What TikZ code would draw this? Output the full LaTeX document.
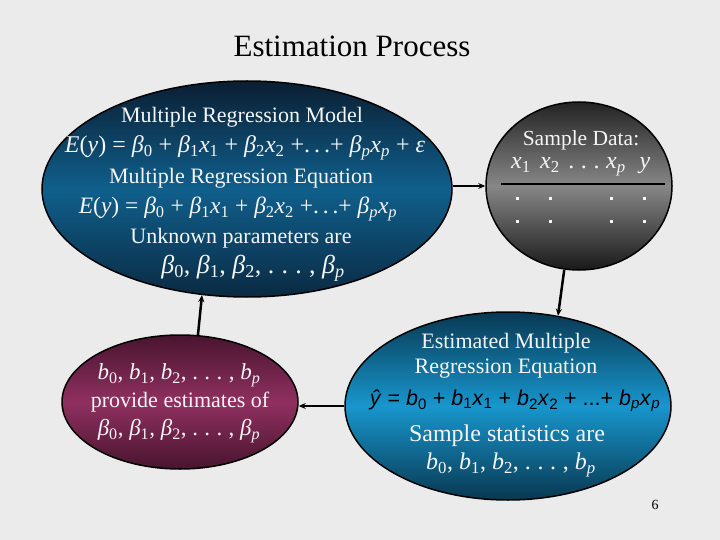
\documentclass[tikz,border=0pt]{standalone}
\usepackage{fontspec}
\setmainfont{Liberation Serif}
\newfontfamily\sansf{Liberation Sans}
\usetikzlibrary{shapes.geometric,arrows.meta}
\newcommand{\sbs}[1]{\textsubscript{#1}}
\newcommand{\bt}{\textit{β}}
\newcommand{\iv}[1]{\textit{#1}}
\definecolor{bgc}{RGB}{235,235,235}
\definecolor{txtw}{RGB}{245,245,245}
\begin{document}
\begin{tikzpicture}[x=1pt,y=-1pt,
  blob/.style={ellipse,draw=black,line width=1.5pt,inner sep=0pt},
  wt/.style={text=txtw,inner sep=0pt,anchor=center},
  arr/.style={line width=2.5pt,-{Stealth[length=7pt,width=6pt]}}]
\fill[bgc] (0,0) rectangle (720,540);
\useasboundingbox (0,0) rectangle (720,540);
\node[inner sep=0pt,font=\fontsize{31}{36}\selectfont] (title) at (352,46) {Estimation Process};
% shapes
\node[blob,minimum width=410pt,minimum height=216pt,
  top color={rgb,255:red,10;green,30;blue,50},
  bottom color={rgb,255:red,10;green,42;blue,66},middle color={rgb,255:red,16;green,95;blue,140}] (top) at (247,189) {};
\node[blob,minimum width=186pt,minimum height=168pt,
  top color={rgb,255:red,35;green,35;blue,35},
  bottom color={rgb,255:red,25;green,25;blue,25},middle color={rgb,255:red,135;green,135;blue,135}] (sample) at (579,186) {};
\node[blob,minimum width=236pt,minimum height=134pt,
  top color={rgb,255:red,72;green,20;blue,46},
  bottom color={rgb,255:red,72;green,20;blue,46},middle color={rgb,255:red,144;green,48;blue,96}] (purple) at (180,402) {};
\node[blob,minimum width=326pt,minimum height=188pt,
  top color={rgb,255:red,8;green,56;blue,82},
  bottom color={rgb,255:red,8;green,56;blue,80},middle color={rgb,255:red,24;green,150;blue,205}] (est) at (508,406) {};
% top ellipse text
\node[wt,font=\fontsize{22}{26}\selectfont] (t1) at (242,117) {Multiple Regression Model};
\node[wt,font=\fontsize{24}{28}\selectfont] (t2) at (245,148) {\iv{E}(\iv{y}) = \bt\sbs{0} + \bt\sbs{1}\iv{x}\sbs{1} + \bt\sbs{2}\iv{x}\sbs{2} +.\,.\,.+ \bt\sbs{\iv{p}}\iv{x}\sbs{\iv{p}} + \iv{ε}};
\node[wt,font=\fontsize{22}{26}\selectfont] (t3) at (241,178) {Multiple Regression Equation};
\node[wt,font=\fontsize{23.5}{27}\selectfont] (t4) at (238,209) {\iv{E}(\iv{y}) = \bt\sbs{0} + \bt\sbs{1}\iv{x}\sbs{1} + \bt\sbs{2}\iv{x}\sbs{2} +.\,.\,.+ \bt\sbs{\iv{p}}\iv{x}\sbs{\iv{p}}};
\node[wt,font=\fontsize{22}{26}\selectfont] (t5) at (241,238) {Unknown parameters are};
\node[wt,font=\fontsize{26}{30}\selectfont] (t6) at (253,268) {\bt\sbs{0}, \bt\sbs{1}, \bt\sbs{2}, .\;.\;.\;, \bt\sbs{\iv{p}}};
% sample data text
\node[wt,font=\fontsize{21.5}{26}\selectfont] (s1) at (581,140) {Sample Data:};
\node[wt,font=\fontsize{24}{28}\selectfont,anchor=base] (s2) at (521,169) {\iv{x}\sbs{1}};
\node[wt,font=\fontsize{24}{28}\selectfont,anchor=base] (s3) at (550,169) {\iv{x}\sbs{2}};
\node[wt,font=\fontsize{24}{28}\selectfont,anchor=base] (s4) at (584,169) {.\;.\;.};
\node[wt,font=\fontsize{24}{28}\selectfont,anchor=base] (s5) at (616,169) {\iv{x}\sbs{\iv{p}}};
\node[wt,font=\fontsize{24}{28}\selectfont,anchor=base] (s6) at (645,169) {\iv{y}};
\coordinate (la) at (501,184);
\coordinate (lb) at (665,184);
\draw[line width=1.5pt] (la) -- (lb);
\foreach \cx in {517,550,611,644}{
  \foreach \cy in {199,222}{
    \fill[txtw] (\cx-1.5,\cy-1.5) rectangle (\cx+1.5,\cy+1.5);
  }
}
% purple text
\node[wt,font=\fontsize{23}{27}\selectfont] (p1) at (179,375) {\iv{b}\sbs{0}, \iv{b}\sbs{1}, \iv{b}\sbs{2}, .\;.\;.\;, \iv{b}\sbs{\iv{p}}};
\node[wt,font=\fontsize{22}{26}\selectfont] (p2) at (180,402) {provide estimates of};
\node[wt,font=\fontsize{23}{27}\selectfont] (p3) at (179,431) {\bt\sbs{0}, \bt\sbs{1}, \bt\sbs{2}, .\;.\;.\;, \bt\sbs{\iv{p}}};
% estimated text
\node[wt,font=\fontsize{22}{26}\selectfont] (e1) at (506,343) {Estimated Multiple};
\node[wt,font=\fontsize{22}{26}\selectfont] (e2) at (506,369) {Regression Equation};
\node[inner sep=0pt,font=\sansf\fontsize{21.5}{26}\selectfont] (e3) at (515,401) {\iv{ŷ} = \iv{b}\sbs{0} + \iv{b}\sbs{1}\iv{x}\sbs{1} + \iv{b}\sbs{2}\iv{x}\sbs{2} + ...+ \iv{b}\sbs{\iv{p}}\iv{x}\sbs{\iv{p}}};
\node[wt,font=\fontsize{24}{28}\selectfont] (e4) at (507,436) {Sample statistics are};
\node[wt,font=\fontsize{24}{28}\selectfont] (e5) at (511,465) {\iv{b}\sbs{0}, \iv{b}\sbs{1}, \iv{b}\sbs{2}, .\;.\;.\;, \iv{b}\sbs{\iv{p}}};
\node[inner sep=0pt,font=\fontsize{14}{16}\selectfont] (num) at (655,505) {6};
% connectors
\draw[arr] (sample.west -| top.east) -- (sample.west);
\draw[arr] (sample.260) -- (est.61);
\draw[arr] (est.west) -- (est.west -| purple.east);
\draw[arr] (purple.75) -- (top.247);
\end{tikzpicture}
\end{document}
